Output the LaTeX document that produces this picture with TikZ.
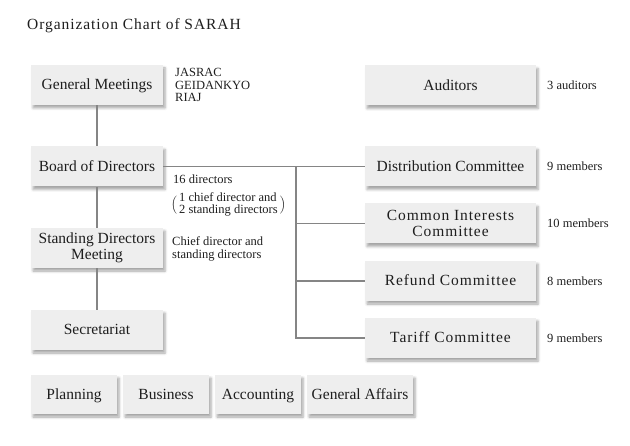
\documentclass[tikz,border=0pt]{standalone}
\usepackage{fontspec}
\setmainfont{Liberation Serif}
\usetikzlibrary{shadows.blur}
\definecolor{boxfill}{HTML}{EEEEEE}
\definecolor{linegray}{HTML}{858585}
\definecolor{txt}{HTML}{1E1E1E}
\begin{document}
\begin{tikzpicture}[x=1pt,y=-1pt,
  box/.style={fill=boxfill, inner sep=0pt, align=center, text=txt,
    font=\fontsize{15.5}{15.5}\selectfont,
    blur shadow={shadow xshift=2pt, shadow yshift=-3pt, shadow blur radius=2.5pt, shadow opacity=35}},
  one/.style={text height=12.5pt, text depth=3pt},
  lbox/.style={box, minimum width=132pt, minimum height=40pt},
  rbox/.style={box, minimum width=171pt, minimum height=40pt},
  bbox/.style={box, one, minimum height=39pt},
  conn/.style={draw=linegray, line width=1.6pt},
  lbl/.style={anchor=west, align=left, inner sep=0pt, text=txt, font=\fontsize{12.5}{12.5}\selectfont},
  spaced/.style={font=\fontsize{15.5}{15.5}\selectfont\addfontfeature{LetterSpace=6}}
]
\useasboundingbox (0,0) rectangle (630,446);
\node[anchor=west, inner sep=0pt, text=txt, font=\fontsize{15.5}{15.5}\selectfont\addfontfeature{LetterSpace=6}] (title) at (27,26) {Organization Chart of SARAH};

% left column
\node[lbox, one] (gm) at (97,85) {General Meetings};
\node[lbox, one] (bod) at (97,166.5) {Board of Directors};
\node[lbox] (sdm) at (97,248) {Standing Directors\\Meeting};
\node[lbox, one] (sec) at (97,330) {Secretariat};

% bottom row
\node[bbox, minimum width=86pt] (plan) at (74,394.5) {Planning};
\node[bbox, minimum width=86pt] (bus) at (166,394.5) {Business};
\node[bbox, minimum width=86pt] (acc) at (258,394.5) {Accounting};
\node[bbox, minimum width=106pt] (ga) at (360,394.5) {General Affairs};

% right column
\node[rbox, one] (aud) at (450.5,85.5) {Auditors};
\node[rbox, one] (dist) at (450.5,166.5) {Distribution Committee};
\node[rbox, spaced] (ci) at (450.5,223.5) {Common Interests\\Committee};
\node[rbox, one, spaced] (ref) at (450.5,281) {Refund Committee};
\node[rbox, one, spaced] (tar) at (450.5,338) {Tariff Committee};

% connectors
\draw[conn] (gm.south) -- (bod.north);
\draw[conn] (bod.south) -- (sdm.north);
\draw[conn] (sdm.south) -- (sec.north);
\draw[conn] (bod.east) -- (dist.west);
\coordinate (jn) at (296,166.5);
\draw[conn] (jn) |- (tar.west);
\draw[conn] (jn |- ci.west) -- (ci.west);
\draw[conn] (jn |- ref.west) -- (ref.west);

% labels
\node[lbl] (orgs) at (175,85) {JASRAC\\GEIDANKYO\\RIAJ};
\node[lbl, anchor=north west] (nd) at (171,174.5) {\hspace{2pt}16 directors\\[8pt]$\Big(\,\vcenter{\hbox{\fontsize{12.5}{11.7}\selectfont\begin{tabular}{@{}l@{}}1 chief director and\\2 standing directors\end{tabular}}}\,\Big)$};
\node[lbl] (sdl) at (172,249) {Chief director and\\standing directors};
\node[lbl] (audl) at (547,85.5) {3 auditors};
\node[lbl] (distl) at (547,166.5) {9 members};
\node[lbl] (cil) at (547,223.5) {10 members};
\node[lbl] (refl) at (547,281) {8 members};
\node[lbl] (tarl) at (547,338) {9 members};
\end{tikzpicture}
\end{document}
